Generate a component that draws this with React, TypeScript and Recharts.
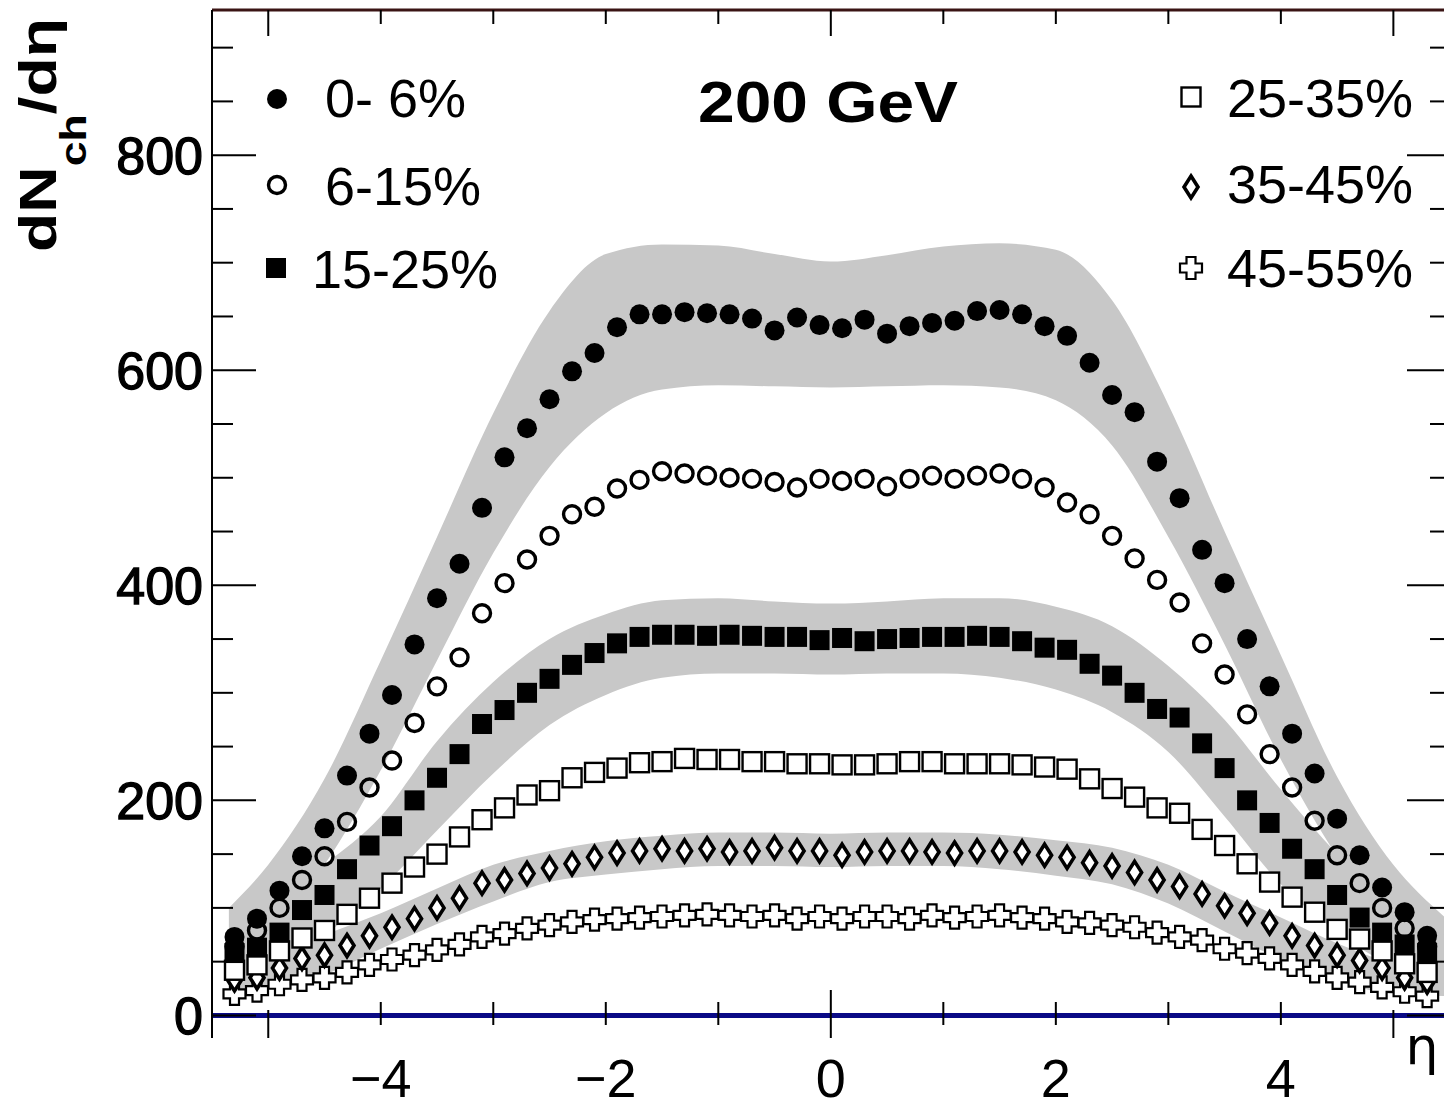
import React from "react";
import { Area, ComposedChart, ReferenceLine, Scatter, XAxis, YAxis } from "recharts";

// pseudorapidity bin centres
const etaBins = [
  -5.3, -5.1, -4.9, -4.7, -4.5, -4.3, -4.1, -3.9, -3.7, -3.5, -3.3, -3.1, -2.9, -2.7,
  -2.5, -2.3, -2.1, -1.9, -1.7, -1.5, -1.3, -1.1, -0.9, -0.7, -0.5, -0.3, -0.1, 0.1,
  0.3, 0.5, 0.7, 0.9, 1.1, 1.3, 1.5, 1.7, 1.9, 2.1, 2.3, 2.5, 2.7, 2.9, 3.1, 3.3,
  3.5, 3.7, 3.9, 4.1, 4.3, 4.5, 4.7, 4.9, 5.1, 5.3,
];

// dNch/deta per centrality class
const cent0to6 = [
  73, 90, 116, 148, 174, 223, 262, 298, 345, 388, 420, 472, 519, 546, 573, 599, 616, 640,
  652, 652, 654, 653, 652, 648, 637, 649, 642, 639, 647, 634, 641, 644, 646, 655, 656, 652,
  641, 632, 607, 577, 561, 515, 481, 433, 402, 350, 306, 262, 225, 183, 149, 119, 96, 74,
];
const cent6to15 = [
  64, 79, 100, 126, 148, 180, 212, 237, 272, 306, 333, 374, 402, 424, 446, 466, 473, 490,
  498, 506, 504, 502, 500, 499, 496, 491, 499, 497, 499, 492, 499, 502, 499, 502, 504, 499,
  491, 477, 466, 446, 425, 405, 384, 346, 317, 280, 243, 212, 181, 149, 123, 100, 81, 64,
];
const cent15to25 = [
  58, 63, 77, 98, 112, 136, 158, 176, 200, 221, 243, 271, 284, 300, 313, 326, 337, 346,
  352, 354, 354, 353, 354, 353, 352, 352, 349, 351, 348, 350, 351, 352, 352, 353, 352, 348,
  342, 340, 327, 316, 300, 285, 277, 253, 230, 200, 179, 155, 136, 112, 91, 77, 66, 58,
];
const cent25to35 = [
  42, 47, 60, 72, 79, 94, 109, 123, 138, 150, 166, 182, 193, 205, 209, 221, 226, 230,
  235, 236, 239, 238, 238, 236, 236, 234, 234, 233, 233, 234, 236, 236, 234, 234, 234, 233,
  231, 229, 220, 211, 203, 193, 188, 173, 158, 141, 124, 110, 96, 80, 71, 60, 48, 40,
];
const cent35to45 = [
  33, 35, 44, 53, 56, 65, 74, 82, 90, 100, 109, 123, 126, 132, 137, 141, 147, 151,
  153, 155, 153, 155, 152, 153, 156, 153, 153, 149, 152, 153, 153, 152, 151, 153, 153, 152,
  149, 147, 142, 139, 133, 126, 120, 113, 102, 95, 86, 74, 65, 56, 51, 44, 35, 31,
];
const cent45to55 = [
  20, 23, 29, 33, 35, 40, 47, 52, 56, 61, 66, 73, 76, 81, 84, 87, 89, 90,
  91, 92, 93, 94, 93, 92, 93, 90, 92, 90, 92, 92, 90, 93, 91, 92, 93, 91,
  90, 87, 86, 84, 82, 77, 73, 70, 62, 58, 53, 47, 41, 35, 31, 26, 22, 18,
];

// systematic error bands (grey)
const bandEta = [
  -5.35, -5.0, -4.5, -4.0, -3.5, -3.0, -2.5, -2.0, -1.5, -1.0, -0.5, 0, 0.5, 1.0, 1.5,
  2.0, 2.5, 3.0, 3.5, 4.0, 4.5, 5.0, 5.45,
];
const band0to6Hi = [100, 140, 220, 330, 445, 560, 655, 708, 717, 716, 708, 701, 707, 715, 718, 712, 665, 568, 450, 335, 222, 140, 92];
const band0to6Lo = [45, 75, 140, 228, 330, 430, 510, 560, 582, 586, 585, 584, 585, 586, 584, 572, 530, 445, 345, 238, 148, 82, 52];
const band15to25Hi = [75, 100, 140, 185, 255, 310, 350, 373, 386, 388, 385, 383, 385, 388, 388, 380, 362, 325, 275, 210, 150, 100, 75];
const band15to25Lo = [30, 45, 75, 118, 172, 225, 270, 298, 314, 318, 318, 317, 318, 318, 314, 303, 282, 245, 185, 122, 78, 45, 30];
const band35to45Hi = [45, 55, 75, 95, 118, 140, 153, 162, 167, 170, 170, 169, 170, 170, 168, 163, 156, 140, 115, 91, 67, 48, 40];
const band35to45Lo = [20, 25, 38, 62, 85, 106, 124, 131, 136, 139, 139, 138, 139, 139, 136, 130, 122, 104, 78, 52, 32, 20, 18];

const xTicks = [-5, -4, -3, -2, -1, 0, 1, 2, 3, 4, 5];
const xLabels = [-4, -2, 0, 2, 4];
const yTicks = [0, 50, 100, 150, 200, 250, 300, 350, 400, 450, 500, 550, 600, 650, 700, 750, 800, 850, 900];
const yLabels = [0, 200, 400, 600, 800];

const W = 1444;
const H = 1109;
const PLOT_LEFT = 212;
const PLOT_TOP = 10;
const PLOT_BOTTOM = 1038;
const FONT = "'Liberation Sans', Arial, sans-serif";
const BAND = "#c8c8c8";

const points = (vals: number[]) => etaBins.map((eta, i) => ({ eta, v: vals[i] }));
const band = (lo: number[], hi: number[]) =>
  bandEta.map((eta, i) => ({ eta, range: [lo[i], hi[i]] }));

function FilledCircle({ cx, cy }: any) {
  return <circle cx={cx} cy={cy} r={10} fill="#000" />;
}
function OpenCircle({ cx, cy }: any) {
  return <circle cx={cx} cy={cy} r={8.5} fill="none" stroke="#000" strokeWidth={3.4} />;
}
function FilledSquare({ cx, cy }: any) {
  return <rect x={cx - 10} y={cy - 10} width={20} height={20} fill="#000" />;
}
function OpenSquare({ cx, cy }: any) {
  return <rect x={cx - 9.5} y={cy - 9.5} width={19} height={19} fill="#fff" stroke="#000" strokeWidth={2.4} />;
}
function diamondPoints(cx: number, cy: number) {
  return `${cx},${cy - 11} ${cx + 7},${cy} ${cx},${cy + 11} ${cx - 7},${cy}`;
}
function Diamond({ cx, cy }: any) {
  return <polygon points={diamondPoints(cx, cy)} fill="#fff" stroke="#000" strokeWidth={3.6} />;
}
function crossPath(cx: number, cy: number) {
  return `M${cx - 4.5},${cy - 11} h9 v6.5 h6.5 v9 h-6.5 v6.5 h-9 v-6.5 h-6.5 v-9 h6.5 z`;
}
function Cross({ cx, cy }: any) {
  return <path d={crossPath(cx, cy)} fill="#fff" stroke="#000" strokeWidth={2.2} />;
}

function XTick({ x, payload }: any) {
  const v = payload.value;
  const edge = v === -5 || v === 5;
  const label = xLabels.includes(v);
  return (
    <g>
      {v === 0 ? (
        <line x1={x} x2={x} y1={PLOT_BOTTOM - 48} y2={PLOT_BOTTOM} stroke="#000" strokeWidth={2} />
      ) : edge ? (
        <line x1={x} x2={x} y1={PLOT_BOTTOM - 28} y2={PLOT_BOTTOM} stroke="#000" strokeWidth={2} />
      ) : (
        <line x1={x} x2={x} y1={PLOT_BOTTOM - 36} y2={PLOT_BOTTOM - 13} stroke="#000" strokeWidth={2} />
      )}
      <line
        x1={x}
        x2={x}
        y1={PLOT_TOP}
        y2={PLOT_TOP + (edge || v === 0 ? 26 : 14)}
        stroke="#000"
        strokeWidth={2}
      />
      {label && (
        <text x={x} y={1097} textAnchor="middle" fontFamily={FONT} fontSize={54} fill="#000">
          {v < 0 ? `\u2212${Math.abs(v)}` : `${v}`}
        </text>
      )}
    </g>
  );
}

function YTick({ x, y, payload }: any) {
  const v = payload.value;
  const major = v % 200 === 0;
  return (
    <g>
      <line x1={x} x2={x + (major ? 44 : 21)} y1={y} y2={y} stroke="#000" strokeWidth={2} />
      <line x1={W - (major ? 37 : 14)} x2={W} y1={y} y2={y} stroke="#000" strokeWidth={2} />
      {yLabels.includes(v) && (
        <text
          x={x - 9}
          y={y + 19}
          textAnchor="end"
          fontFamily={FONT}
          fontSize={52}
          fill="#000"
          stroke="#000"
          strokeWidth={1.3}
        >
          {v}
        </text>
      )}
    </g>
  );
}

function Overlay() {
  const txt = { fontFamily: FONT, fontSize: 54, fill: "#000" };
  return (
    <svg
      width={W}
      height={H}
      style={{ position: "absolute", left: 0, top: 0, pointerEvents: "none" }}
    >
      <text
        transform="translate(56,252) rotate(-90)"
        fontFamily={FONT}
        fontWeight="bold"
        fontSize={52}
        textLength={234}
        lengthAdjust="spacingAndGlyphs"
      >
        dN
        <tspan fontSize={36} dy={30}>
          ch
        </tspan>
        <tspan dy={-30}>/dη</tspan>
      </text>

      <text x={828} y={122} textAnchor="middle" fontFamily={FONT} fontWeight="bold" fontSize={58} textLength={260} lengthAdjust="spacingAndGlyphs">
        200 GeV
      </text>

      <circle cx={277} cy={99} r={10} fill="#000" />
      <text x={325} y={117} {...txt}>0- 6%</text>
      <circle cx={277} cy={185} r={8.5} fill="none" stroke="#000" strokeWidth={3.4} />
      <text x={325} y={205} {...txt}>6-15%</text>
      <rect x={266} y={258} width={20} height={20} fill="#000" />
      <text x={312} y={288} {...txt}>15-25%</text>

      <rect x={1181.5} y={87.5} width={19} height={19} fill="#fff" stroke="#000" strokeWidth={2.4} />
      <text x={1227} y={117} {...txt}>25-35%</text>
      <polygon points={diamondPoints(1191, 187)} fill="#fff" stroke="#000" strokeWidth={3.6} />
      <text x={1227} y={203} {...txt}>35-45%</text>
      <path d={crossPath(1191, 268)} fill="#fff" stroke="#000" strokeWidth={2.2} />
      <text x={1227} y={287} {...txt}>45-55%</text>

      <text x={1422} y={1064} textAnchor="middle" fontFamily="'DejaVu Sans', sans-serif" fontSize={52} fill="#000">
        η
      </text>
    </svg>
  );
}

export default function App() {
  return (
    <div style={{ position: "absolute", left: 0, top: 0, width: W, height: H, background: "#fff", overflow: "hidden" }}>
      <ComposedChart width={W} height={H} margin={{ top: PLOT_TOP, right: 0, bottom: 0, left: 0 }}>
        <XAxis
          dataKey="eta"
          type="number"
          domain={[-5.5, 5.45]}
          allowDataOverflow
          ticks={xTicks}
          interval={0}
          height={H - PLOT_BOTTOM}
          axisLine={false}
          tickLine={false}
          tickSize={0}
          tickMargin={0}
          tick={<XTick />}
        />
        <YAxis
          type="number"
          domain={[-21, 935]}
          allowDataOverflow
          ticks={yTicks}
          interval={0}
          width={PLOT_LEFT}
          axisLine={{ stroke: "#000", strokeWidth: 2 }}
          tickLine={false}
          tickSize={0}
          tickMargin={0}
          tick={<YTick />}
        />
        <Area data={band(band0to6Lo, band0to6Hi)} dataKey="range" type="monotone" fill={BAND} fillOpacity={1} stroke="none" isAnimationActive={false} />
        <Area data={band(band15to25Lo, band15to25Hi)} dataKey="range" type="monotone" fill={BAND} fillOpacity={1} stroke="none" isAnimationActive={false} />
        <Area data={band(band35to45Lo, band35to45Hi)} dataKey="range" type="monotone" fill={BAND} fillOpacity={1} stroke="none" isAnimationActive={false} />
        <ReferenceLine y={0} stroke="#0a0a86" strokeWidth={5} />
        <ReferenceLine y={935} stroke="#3a1414" strokeWidth={3} />
        <Scatter data={points(cent45to55)} dataKey="v" shape={<Cross />} isAnimationActive={false} />
        <Scatter data={points(cent35to45)} dataKey="v" shape={<Diamond />} isAnimationActive={false} />
        <Scatter data={points(cent25to35)} dataKey="v" shape={<OpenSquare />} isAnimationActive={false} />
        <Scatter data={points(cent15to25)} dataKey="v" shape={<FilledSquare />} isAnimationActive={false} />
        <Scatter data={points(cent6to15)} dataKey="v" shape={<OpenCircle />} isAnimationActive={false} />
        <Scatter data={points(cent0to6)} dataKey="v" shape={<FilledCircle />} isAnimationActive={false} />
      </ComposedChart>
      <Overlay />
    </div>
  );
}
